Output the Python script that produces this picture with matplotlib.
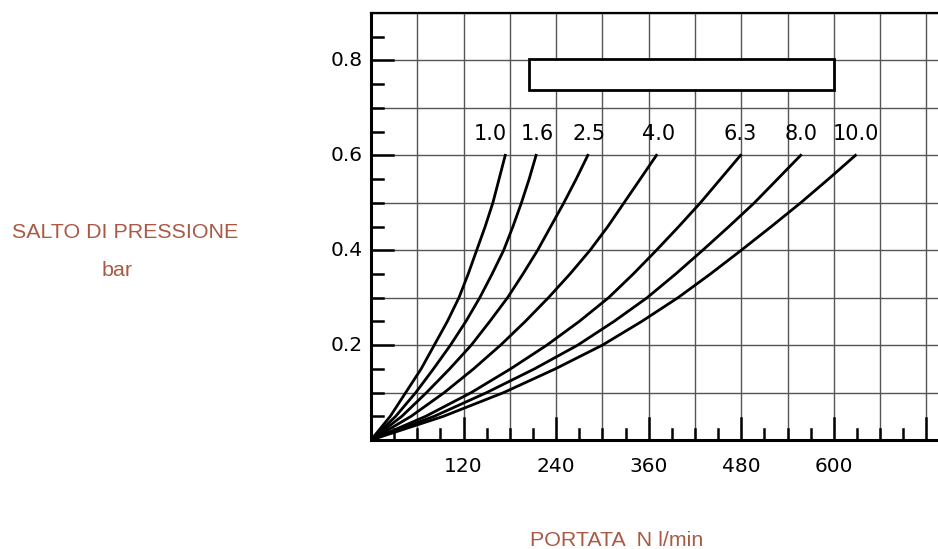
import matplotlib
matplotlib.use("Agg")
import matplotlib.pyplot as plt
from matplotlib.patches import Rectangle
from matplotlib.ticker import MultipleLocator

# pressure drop levels (bar)
dp = [0.0, 0.05, 0.1, 0.15, 0.2, 0.25, 0.3, 0.35, 0.4, 0.45, 0.5, 0.55, 0.6]

# flow (N l/min) for each inlet pressure curve at the dp levels above
curves = {
    "1.0":  [0, 25, 45, 65, 82, 99, 114, 126, 137, 148, 158, 166, 174],
    "1.6":  [0, 32, 58, 81, 103, 123, 141, 157, 172, 184, 195, 205, 214],
    "2.5":  [0, 40, 72, 102, 130, 154, 177, 197, 216, 233, 250, 266, 281],
    "4.0":  [0, 52, 95, 133, 168, 200, 230, 258, 284, 307, 328, 349, 370],
    "6.3":  [0, 71, 130, 181, 228, 270, 308, 340, 370, 399, 427, 453, 479],
    "8.0":  [0, 82, 150, 212, 268, 315, 358, 395, 430, 464, 497, 527, 557],
    "10.0": [0, 94, 172, 239, 300, 351, 398, 440, 480, 519, 557, 593, 628],
}
label_x = [154, 215, 283, 373, 479, 557, 628]
x_ticklabels = [120, 240, 360, 480, 600]
y_ticklabels = [0.2, 0.4, 0.6, 0.8]

label_col = "#A85A45"

fig = plt.figure(figsize=(9.38, 5.49), dpi=100)
ax = fig.add_axes([371 / 938, 1 - 440 / 549, 1 - 371 / 938, (440 - 13) / 549])
ax.set_xlim(0, 735)
ax.set_ylim(0, 0.9)

# grid
ax.xaxis.set_major_locator(MultipleLocator(60))
ax.yaxis.set_major_locator(MultipleLocator(0.1))
ax.grid(True, color="#555555", lw=1.0, zorder=0)
ax.set_xticklabels([])
ax.set_yticklabels([])
ax.tick_params(length=0)

for name, q in curves.items():
    ax.plot(q, dp, color="black", lw=2.0, zorder=3)

for name, x in zip(curves.keys(), label_x):
    ax.text(x, 0.646, name, ha="center", va="center", fontsize=15, zorder=4)

ax.add_patch(Rectangle((205, 0.737), 395, 0.067, facecolor="white",
                       edgecolor="black", lw=2, zorder=4))

# inward ticks, long every 120 l/min and every 0.2 bar
px_x = 0.775      # pixels per l/min
px_y = 475.0      # pixels per bar
for v in range(30, 735, 30):
    ln = 22 if v % 120 == 0 else 11
    ax.plot([v, v], [0, ln / px_y], color="black", lw=1.8, zorder=5)
for i in range(1, 18):
    v = i * 0.05
    ln = 22 if i % 4 == 0 else 12
    ax.plot([0, ln / px_x], [v, v], color="black", lw=1.8, zorder=5)

for v in x_ticklabels:
    ax.text(v, -0.055, str(v), ha="center", va="center", fontsize=14.5)
for v in y_ticklabels:
    ax.text(-11, v, f"{v:.1f}", ha="right", va="center", fontsize=14.5)

for s in ["left", "bottom"]:
    ax.spines[s].set_linewidth(2.2)
ax.spines["top"].set_linewidth(1.6)
ax.spines["right"].set_visible(False)

fig.text(125 / 938, 1 - 233 / 549, "SALTO DI PRESSIONE", color=label_col,
         fontsize=15.4, family="Liberation Sans", ha="center", va="center")
fig.text(117 / 938, 1 - 270 / 549, "bar", color=label_col,
         fontsize=15.4, family="Liberation Sans", ha="center", va="center")
fig.text(617 / 938, 1 - 540 / 549, "PORTATA  N l/min", color=label_col,
         fontsize=15.4, family="Liberation Sans", ha="center", va="center")

fig.savefig("out.png", dpi=100)
